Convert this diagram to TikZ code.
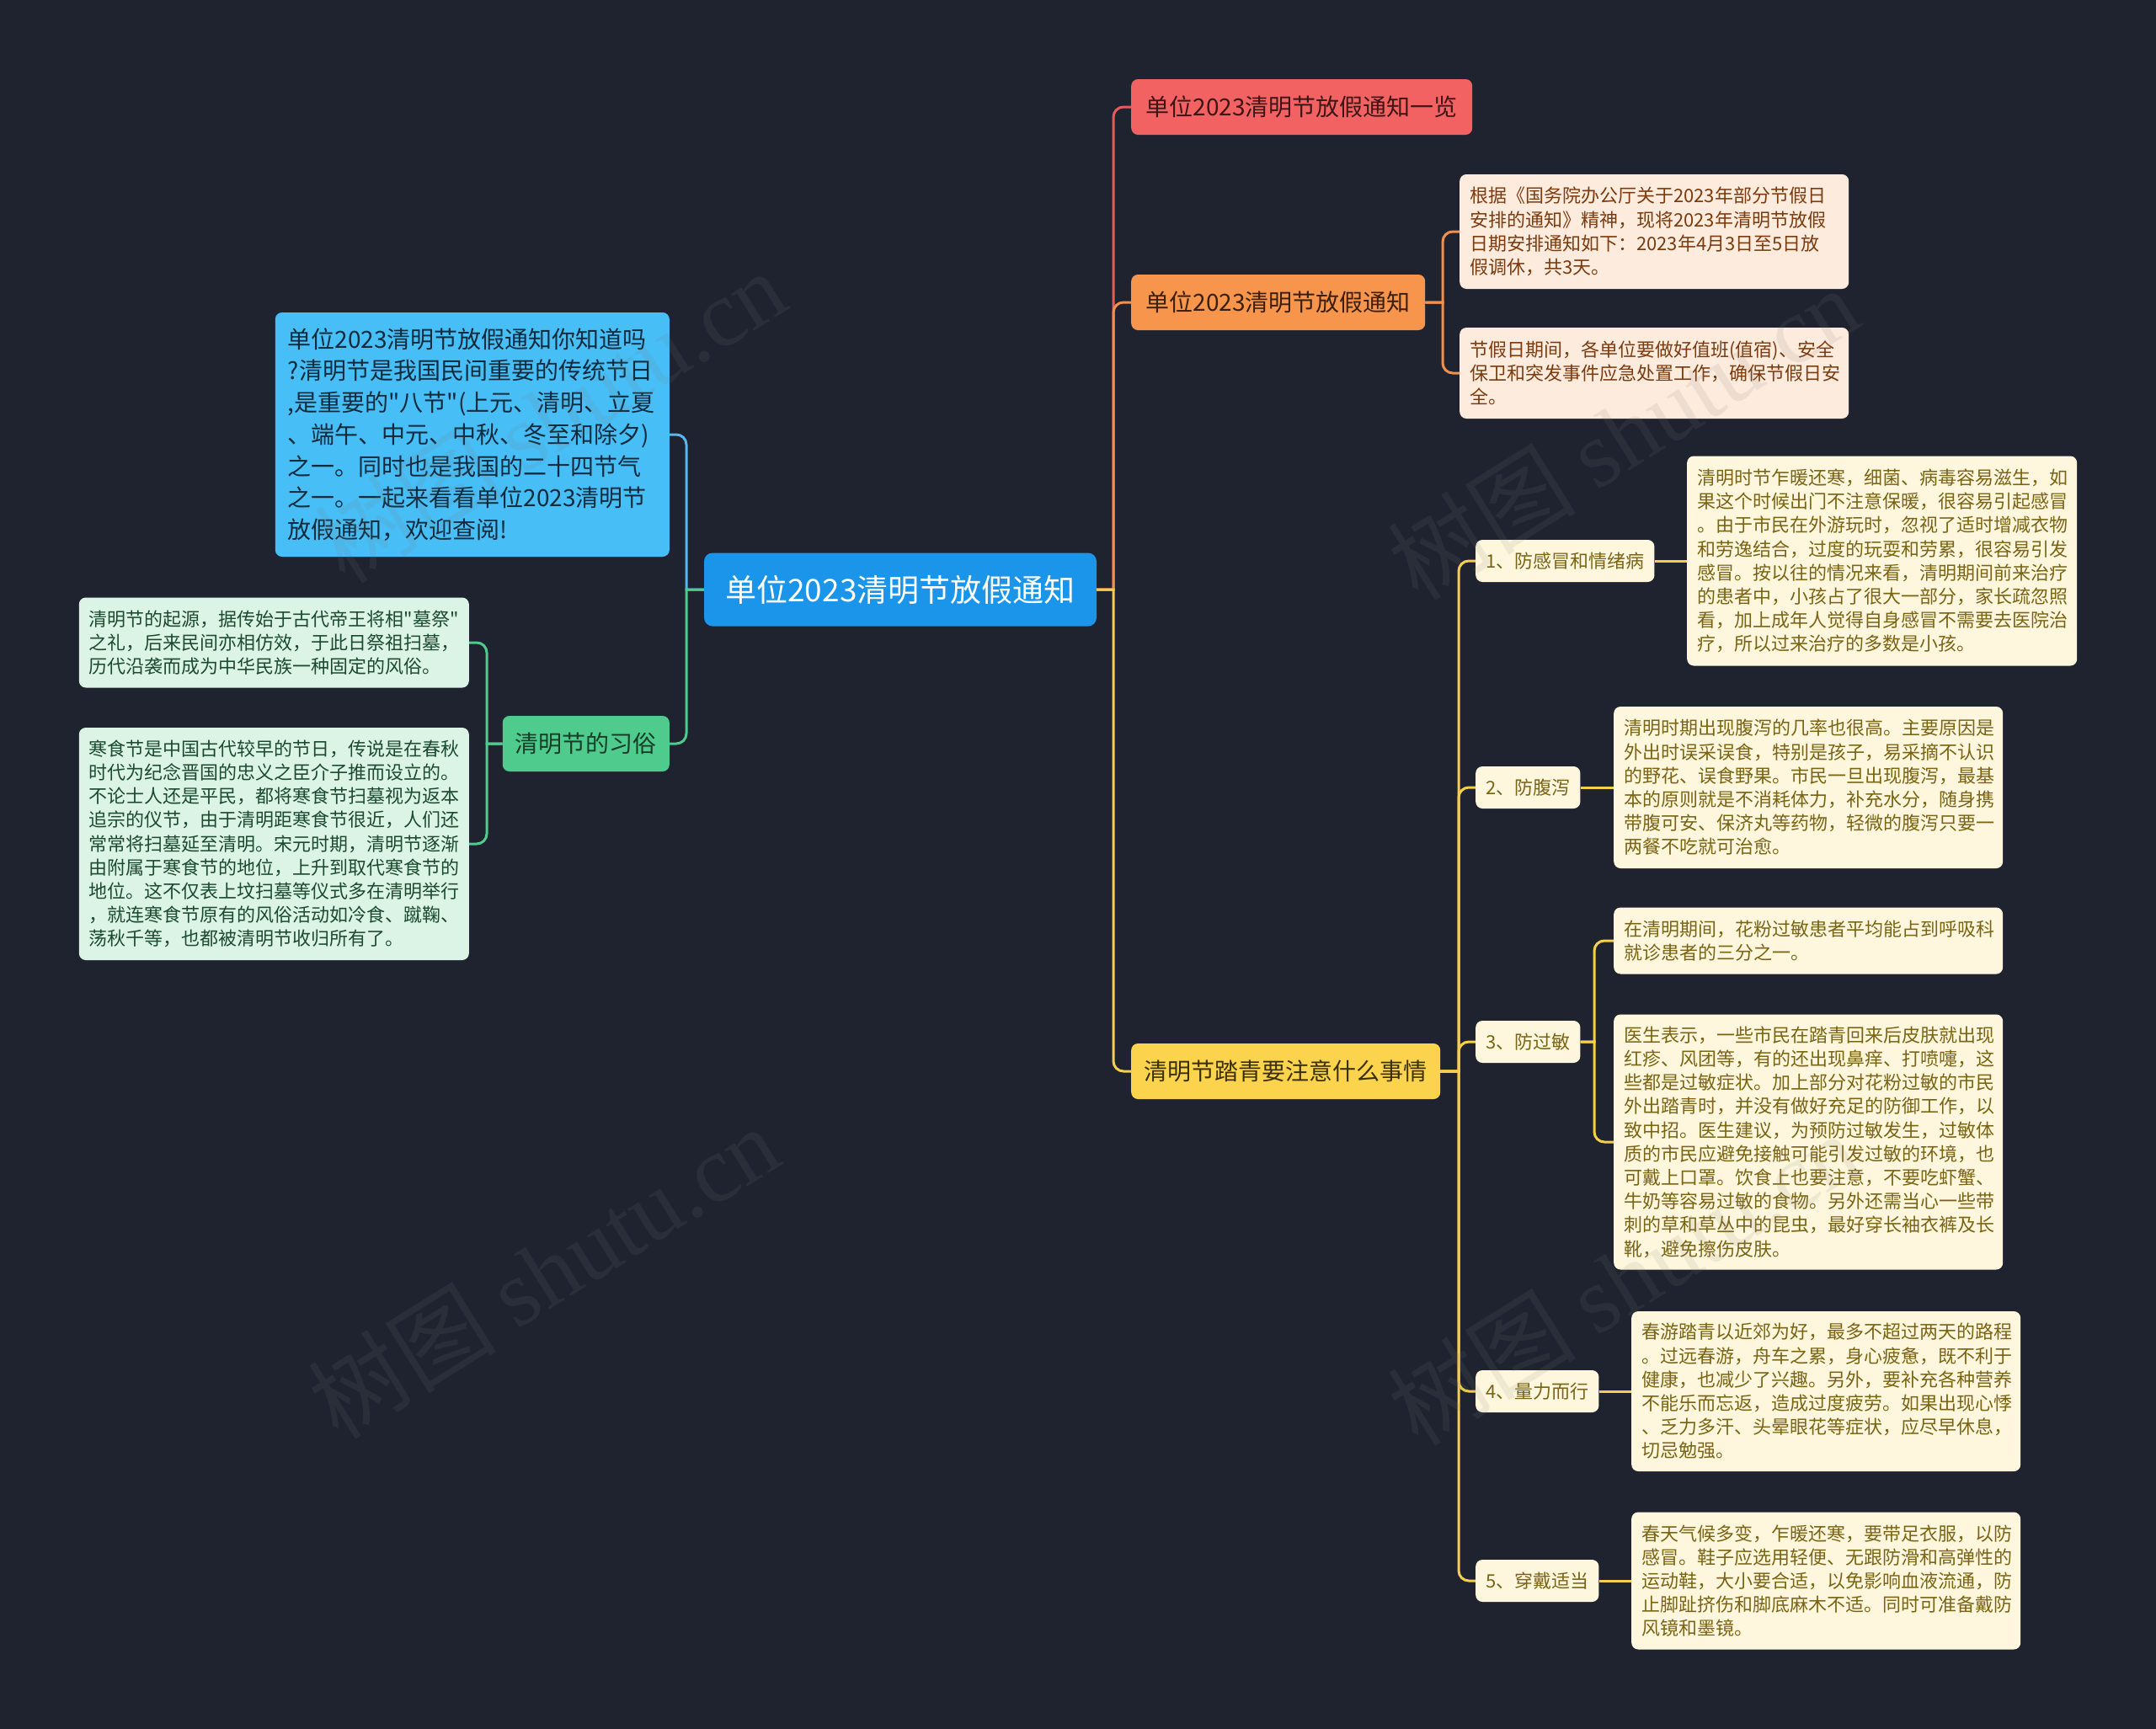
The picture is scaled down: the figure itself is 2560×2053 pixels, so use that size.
\documentclass[tikz,border=0pt]{standalone}
\usepackage{fontspec}
\setmainfont{Noto Sans CJK SC}[Ligatures=TeXOff]
\newfontfamily\wmfont{Liberation Serif}
\definecolor{bg}{HTML}{1F2330}
\definecolor{rootfill}{HTML}{1B95EA}
\definecolor{introfill}{HTML}{48BEF6}
\definecolor{introtext}{HTML}{0E2B3E}
\definecolor{blueline}{HTML}{56B8F0}
\definecolor{greenfill}{HTML}{4ECB8D}
\definecolor{greentext}{HTML}{153D28}
\definecolor{greenleaf}{HTML}{DCF4E6}
\definecolor{greenleaftext}{HTML}{1B4A2F}
\definecolor{redfill}{HTML}{F36262}
\definecolor{redtext}{HTML}{3D1515}
\definecolor{redline}{HTML}{E85A5A}
\definecolor{orangefill}{HTML}{F8954D}
\definecolor{orangetext}{HTML}{3A1F0A}
\definecolor{orangeline}{HTML}{F0904D}
\definecolor{orangeleaf}{HTML}{FDEBDD}
\definecolor{orangeleaftext}{HTML}{7C3B0E}
\definecolor{yellowfill}{HTML}{FCD34D}
\definecolor{yellowtext}{HTML}{3A2F05}
\definecolor{yellowline}{HTML}{F5CF4B}
\definecolor{yellowleaf}{HTML}{FFF7DD}
\definecolor{yellowleaftext}{HTML}{7A6414}
\tikzset{
  base/.style={rounded corners=8pt, inner ysep=4pt, align=left},
  rootbox/.style={base, fill=rootfill, text=white, minimum width=466pt, minimum height=87pt,
    align=center, font=\fontsize{37}{44}\selectfont, rounded corners=10pt},
  topbox/.style={base, minimum height=66pt, align=center, font=\fontsize{28}{34}\selectfont},
  subbox/.style={base, fill=yellowleaf, text=yellowleaftext, minimum height=50pt, inner xsep=12pt,
    anchor=west, font=\fontsize{22}{28.2}\selectfont},
  leaf/.style={base, inner xsep=12pt, font=\fontsize{22}{28.2}\selectfont},
  yleaf/.style={leaf, fill=yellowleaf, text=yellowleaftext, anchor=west, text width=438pt},
  oleaf/.style={leaf, fill=orangeleaf, text=orangeleaftext, anchor=west, text width=438pt},
  gleaf/.style={leaf, fill=greenleaf, text=greenleaftext, anchor=east, text width=439pt},
  conn/.style={line width=3pt},
  wm/.style={text=gray, text opacity=0.12, font=\fontsize{112}{114}\selectfont, rotate=32}
}
\begin{document}
\begin{tikzpicture}[x=1pt,y=-1pt]
\fill[bg] (0,0) rectangle (2560,2053);
\useasboundingbox (0,0) rectangle (2560,2053);

% root
\node[rootbox] (root) at (1069,700) {单位2023清明节放假通知};

% right level 1
\node[topbox, fill=redfill, text=redtext, anchor=west, minimum width=405pt] (red) at (1343,127) {单位2023清明节放假通知一览};
\node[topbox, fill=orangefill, text=orangetext, anchor=west, minimum width=349pt] (orange) at (1343,359) {单位2023清明节放假通知};
\node[topbox, fill=yellowfill, text=yellowtext, anchor=west, minimum width=367pt] (yellow) at (1343,1272) {清明节踏青要注意什么事情};

% left level 1
\node[base, fill=introfill, text=introtext, anchor=east, inner xsep=15pt, text width=438pt,
  minimum height=290pt, font=\fontsize{28}{37.7}\selectfont] (intro) at (795,516) {单位2023清明节放假通知你知道吗\\?清明节是我国民间重要的传统节日\\,是重要的"八节"(上元、清明、立夏\\、端午、中元、中秋、冬至和除夕)\\之一。同时也是我国的二十四节气\\之一。一起来看看单位2023清明节\\放假通知，欢迎查阅!};
\node[topbox, fill=greenfill, text=greentext, anchor=east, minimum width=198pt] (custom) at (795,883) {清明节的习俗};

% orange leaves
\node[oleaf, minimum height=136pt] (o1) at (1733,275) {根据《国务院办公厅关于2023年部分节假日\\安排的通知》精神，现将2023年清明节放假\\日期安排通知如下：2023年4月3日至5日放\\假调休，共3天。};
\node[oleaf, minimum height=108pt] (o2) at (1733,443) {节假日期间，各单位要做好值班(值宿)、安全\\保卫和突发事件应急处置工作，确保节假日安\\全。};

% yellow level 2
\node[subbox] (n1) at (1752,666) {1、防感冒和情绪病};
\node[subbox] (n2) at (1752,935) {2、防腹泻};
\node[subbox] (n3) at (1752,1237) {3、防过敏};
\node[subbox] (n4) at (1752,1652) {4、量力而行};
\node[subbox] (n5) at (1752,1877) {5、穿戴适当};

% yellow leaves
\node[yleaf, text width=439pt, minimum height=249pt] (l1) at (2003,666) {清明时节乍暖还寒，细菌、病毒容易滋生，如\\果这个时候出门不注意保暖，很容易引起感冒\\。由于市民在外游玩时，忽视了适时增减衣物\\和劳逸结合，过度的玩耍和劳累，很容易引发\\感冒。按以往的情况来看，清明期间前来治疗\\的患者中，小孩占了很大一部分，家长疏忽照\\看，加上成年人觉得自身感冒不需要去医院治\\疗，所以过来治疗的多数是小孩。};
\node[yleaf, minimum height=192pt] (l2) at (1916,935) {清明时期出现腹泻的几率也很高。主要原因是\\外出时误采误食，特别是孩子，易采摘不认识\\的野花、误食野果。市民一旦出现腹泻，最基\\本的原则就是不消耗体力，补充水分，随身携\\带腹可安、保济丸等药物，轻微的腹泻只要一\\两餐不吃就可治愈。};
\node[yleaf, minimum height=79pt] (l3a) at (1916,1117) {在清明期间，花粉过敏患者平均能占到呼吸科\\就诊患者的三分之一。};
\node[yleaf, minimum height=303pt] (l3b) at (1916,1356) {医生表示，一些市民在踏青回来后皮肤就出现\\红疹、风团等，有的还出现鼻痒、打喷嚏，这\\些都是过敏症状。加上部分对花粉过敏的市民\\外出踏青时，并没有做好充足的防御工作，以\\致中招。医生建议，为预防过敏发生，过敏体\\质的市民应避免接触可能引发过敏的环境，也\\可戴上口罩。饮食上也要注意，不要吃虾蟹、\\牛奶等容易过敏的食物。另外还需当心一些带\\刺的草和草丛中的昆虫，最好穿长袖衣裤及长\\靴，避免擦伤皮肤。};
\node[yleaf, minimum height=190pt] (l4) at (1937,1652) {春游踏青以近郊为好，最多不超过两天的路程\\。过远春游，舟车之累，身心疲惫，既不利于\\健康，也减少了兴趣。另外，要补充各种营养\\不能乐而忘返，造成过度疲劳。如果出现心悸\\、乏力多汗、头晕眼花等症状，应尽早休息，\\切忌勉强。};
\node[yleaf, minimum height=163pt] (l5) at (1937,1877) {春天气候多变，乍暖还寒，要带足衣服，以防\\感冒。鞋子应选用轻便、无跟防滑和高弹性的\\运动鞋，大小要合适，以免影响血液流通，防\\止脚趾挤伤和脚底麻木不适。同时可准备戴防\\风镜和墨镜。};

% green leaves
\node[gleaf, minimum height=107pt] (g1) at (557,763) {清明节的起源，据传始于古代帝王将相"墓祭"\\之礼，后来民间亦相仿效，于此日祭祖扫墓，\\历代沿袭而成为中华民族一种固定的风俗。};
\node[gleaf, minimum height=276pt] (g2) at (557,1002) {寒食节是中国古代较早的节日，传说是在春秋\\时代为纪念晋国的忠义之臣介子推而设立的。\\不论士人还是平民，都将寒食节扫墓视为返本\\追宗的仪节，由于清明距寒食节很近，人们还\\常常将扫墓延至清明。宋元时期，清明节逐渐\\由附属于寒食节的地位，上升到取代寒食节的\\地位。这不仅表上坟扫墓等仪式多在清明举行\\，就连寒食节原有的风俗活动如冷食、蹴鞠、\\荡秋千等，也都被清明节收归所有了。};

% junction coordinates
\coordinate (jr) at (1322,700);
\coordinate (jl) at (815,700);
\coordinate (jo) at (1713,359);
\coordinate (jy) at (1732,1272);
\coordinate (j3) at (1893,1237);
\coordinate (jg) at (578,883);

% connectors right
\draw[conn, redline] (root.east) -- (jr) [rounded corners=12pt] |- (red.west);
\draw[conn, orangeline] (root.east) -- (jr) [rounded corners=12pt] |- (orange.west);
\draw[conn, yellowline] (root.east) -- (jr) [rounded corners=12pt] |- (yellow.west);
\draw[conn, orangeline] (orange.east) -- (jo) [rounded corners=12pt] |- (o1.west);
\draw[conn, orangeline] (orange.east) -- (jo) [rounded corners=12pt] |- (o2.west);
\foreach \n in {n1,n2,n3,n4,n5}{
  \draw[conn, yellowline] (yellow.east) -- (jy) [rounded corners=12pt] |- (\n.west);
}
\draw[conn, yellowline] (n1.east) -- (l1.west);
\draw[conn, yellowline] (n2.east) -- (l2.west);
\draw[conn, yellowline] (n3.east) -- (j3) [rounded corners=12pt] |- (l3a.west);
\draw[conn, yellowline] (n3.east) -- (j3) [rounded corners=12pt] |- (l3b.west);
\draw[conn, yellowline] (n4.east) -- (l4.west);
\draw[conn, yellowline] (n5.east) -- (l5.west);

% connectors left
\draw[conn, blueline] (root.west) -- (jl) [rounded corners=12pt] |- (intro.east);
\draw[conn, greenfill] (root.west) -- (jl) [rounded corners=12pt] |- (custom.east);
\draw[conn, greenfill] (custom.west) -- (jg) [rounded corners=12pt] |- (g1.east);
\draw[conn, greenfill] (custom.west) -- (jg) [rounded corners=12pt] |- (g2.east);

% watermarks
\node[wm] (wm1) at (653,494) {树图 {\wmfont shutu.cn}};
\node[wm] (wm2) at (645,1510) {树图 {\wmfont shutu.cn}};
\node[wm] (wm3) at (1927,514) {树图 {\wmfont shutu.cn}};
\node[wm] (wm4) at (1927,1518) {树图 {\wmfont shutu.cn}};
\end{tikzpicture}
\end{document}
